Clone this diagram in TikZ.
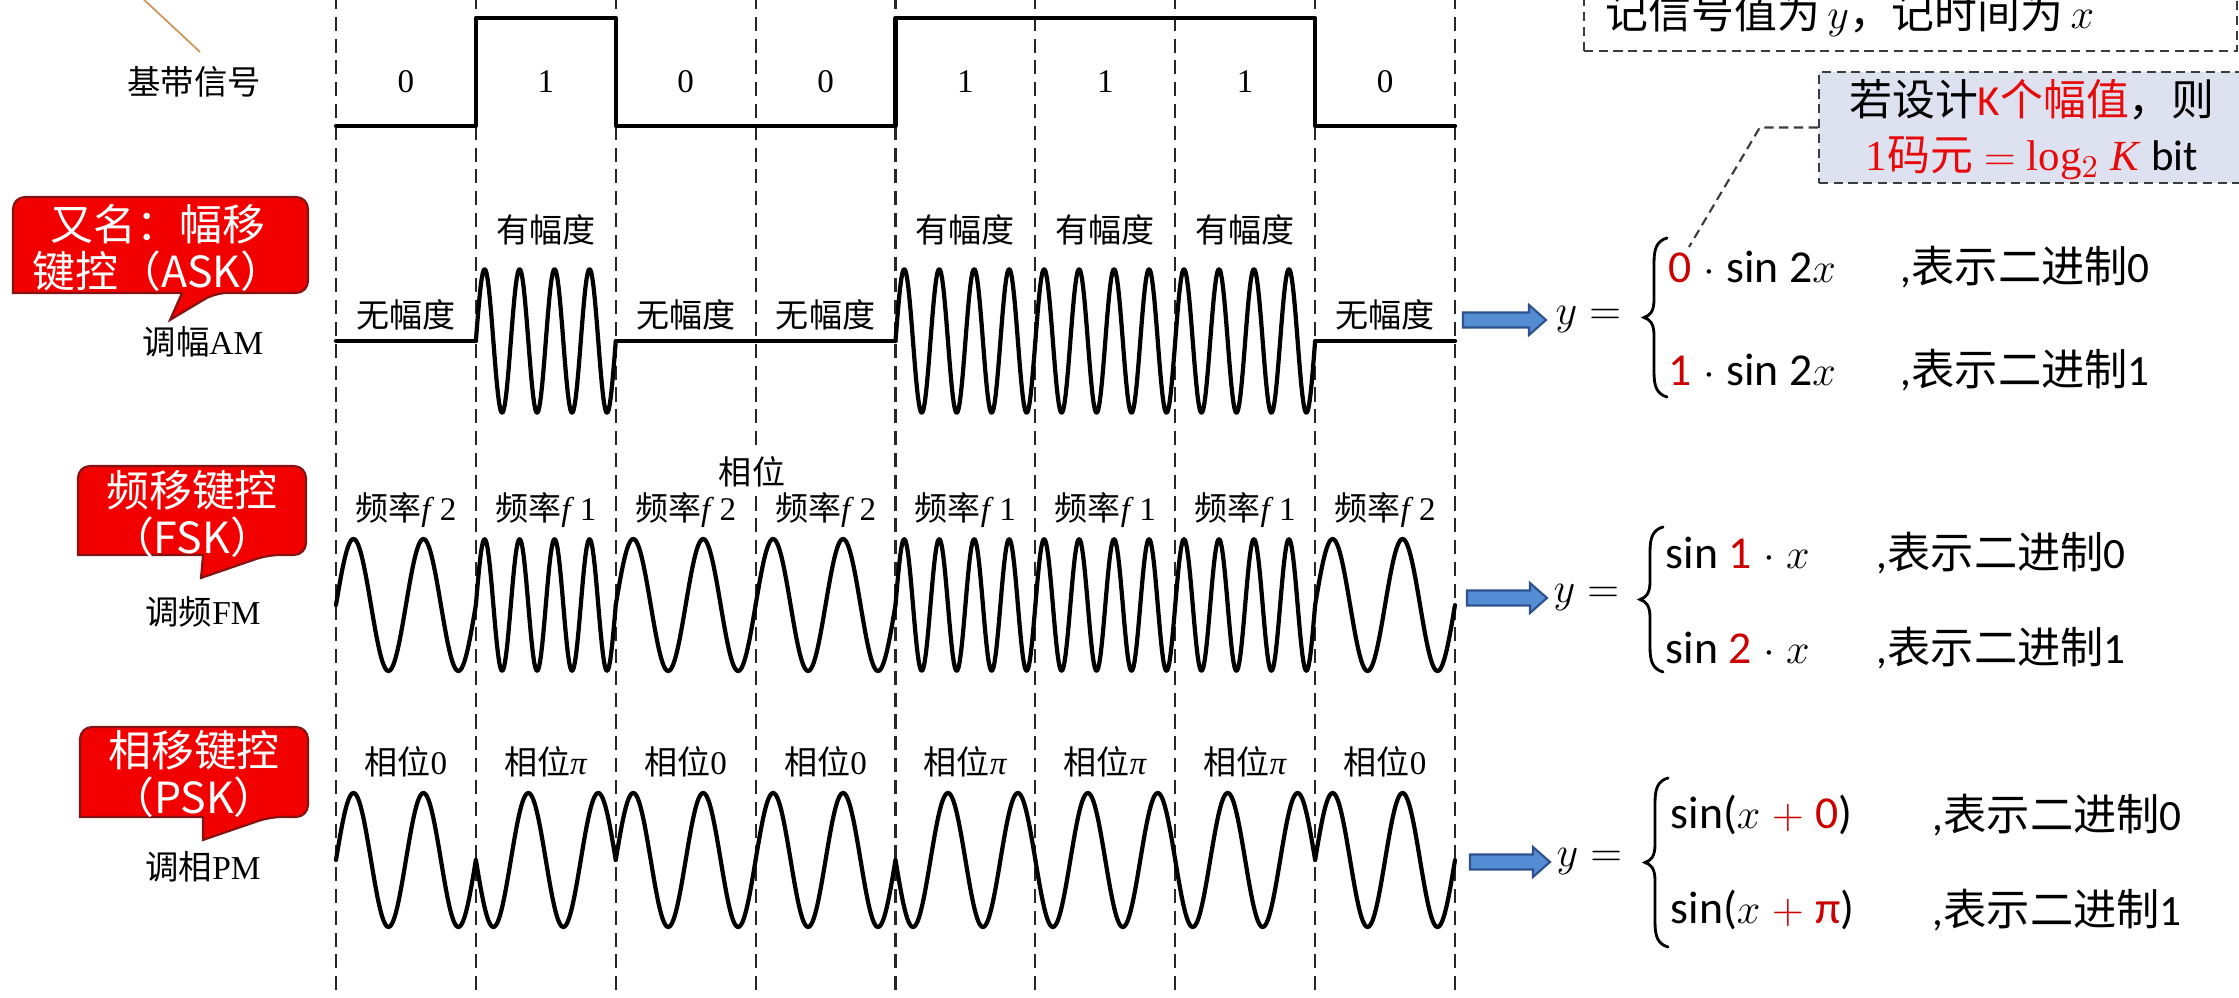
\documentclass[tikz,border=0pt]{standalone}
\usepackage{fontspec}
\setmainfont{Liberation Serif}
\setsansfont{Carlito}
\newfontfamily\zhfont{Noto Sans CJK SC}
\usetikzlibrary{calc}
\definecolor{cred}{RGB}{205,0,0}
\definecolor{kred}{RGB}{230,10,10}
\definecolor{calloutred}{RGB}{242,0,0}
\definecolor{calloutedge}{RGB}{130,20,20}
\definecolor{arrowblue}{RGB}{84,141,212}
\definecolor{arrowedge}{RGB}{47,82,143}
\definecolor{notefill}{RGB}{222,226,240}
\definecolor{notedark}{RGB}{60,60,60}
\definecolor{brownline}{RGB}{205,150,95}
\newcommand\zh[1]{{\zhfont #1}}
\newcommand\lblsize{\fontsize{9.4}{11}\selectfont}
\newcommand\eqsize{\fontsize{13}{15}\selectfont}
\newcommand\cmtsize{\fontsize{12.3}{15}\selectfont}
% callout: x1 y1 x2 y2 tailL tailR tipx tipy
\newcommand\callout[8]{%
  \draw[calloutst] (#1,{(#2+#4)/2}) [rounded corners=3.4pt] -- (#1,#2) -- (#3,#2) -- (#3,#4) -- (#6,#4) [sharp corners] -- (#7,#8) -- (#5,#4) -- (#1,#4) [rounded corners=3.4pt] -- cycle;}
% brace: xright ytop ybottom
\newcommand\cbrace[3]{%
  \pgfmathsetmacro\ym{(#2+#3)/2}%
  \draw[bracest] (#1,#2) .. controls ({#1-10},{#2+3}) and ({#1-13},{#2+10}) .. ({#1-13},{#2+25}) -- ({#1-13},{\ym-18}) .. controls ({#1-13},{\ym-6}) and ({#1-17},{\ym-2}) .. ({#1-23},\ym) .. controls ({#1-17},{\ym+2}) and ({#1-13},{\ym+6}) .. ({#1-13},{\ym+18}) -- ({#1-13},{#3-25}) .. controls ({#1-13},{#3-10}) and ({#1-10},{#3-3}) .. (#1,#3);}
% block arrow: name x1 x2 y
\newcommand\blockarrow[4]{%
  \coordinate (#1s) at (#2,#4);
  \coordinate (#1) at (#3,#4);
  \draw[arrowst] (#2,{#4-7.5}) -- ({#3-17},{#4-7.5}) -- ({#3-17},{#4-15}) -- (#1) -- ({#3-17},{#4+15}) -- ({#3-17},{#4+7.5}) -- (#2,{#4+7.5}) -- cycle;}

\begin{document}
\begin{tikzpicture}[x=0.01cm,y=-0.01cm,
  sig/.style={line width=1.2pt, line join=round, line cap=round},
  gridline/.style={line width=0.6pt, dash pattern=on 4pt off 2.2pt, black!85},
  wlabel/.style={font=\lblsize, inner sep=1pt},
  leftlbl/.style={font=\fontsize{9.5}{11}\selectfont, inner sep=1pt},
  calloutst/.style={fill=calloutred, draw=calloutedge, line width=0.6pt},
  callouttext/.style={text=white, align=center, font=\zhfont\fontsize{12.2}{13.2}\selectfont, inner sep=0},
  bracest/.style={line width=0.8pt, line cap=round},
  arrowst/.style={fill=arrowblue, draw=arrowedge, line width=0.6pt, line join=miter},
  eqn/.style={font=\eqsize, anchor=west, inner sep=0},
  cmt/.style={font=\cmtsize, anchor=west, inner sep=0},
  notedash/.style={draw=notedark, line width=0.6pt, dash pattern=on 2.6pt off 1.6pt},
  tanline/.style={draw=brownline, line width=0.5pt}
]
\useasboundingbox (0,0) rectangle (2239,998);
\clip (0,0) rectangle (2239,998);
\fill[white] (0,0) rectangle (2239,998);

% dashed bit boundaries
\foreach \i in {0,...,8}{
  \draw[gridline] ({336+139.875*\i},-5) -- ({336+139.875*\i},1005);
}

% thin brown pointer
\coordinate (bra) at (140,-4);
\coordinate (brb) at (200,52);
\draw[tanline] (bra) -- (brb);

% left labels
\node[leftlbl] (bb) at (194,82) {\zh{基带信号}};
\node[leftlbl] (am) at (203,342) {\zh{调幅}AM};
\node[leftlbl] (fm) at (203,612) {\zh{调频}FM};
\node[leftlbl] (pm) at (203,867) {\zh{调相}PM};

% callouts
\callout{13}{197}{308}{293}{182}{215}{170}{320}
\node[callouttext] (askc) at (158,248) {又名：幅移\\键控（ASK）};
\callout{78}{466}{306}{555}{203}{268}{201}{578}
\node[callouttext] (fskc) at (192,514) {频移键控\\（FSK）};
\callout{80}{727}{308}{817}{203}{270}{203}{840}
\node[callouttext] (pskc) at (194,774) {相移键控\\（PSK）};

% baseband signal
\draw[sig] (336,126) -- (475.875,126) -- (475.875,18) -- (615.75,18) -- (615.75,126) -- (895.5,126) -- (895.5,18) -- (1315.125,18) -- (1315.125,126) -- (1455,126);

% modulated waveforms and labels
\foreach \bv [count=\i from 0] in {0,1,0,0,1,1,1,0}{
  \pgfmathsetmacro\xa{336+139.875*\i}
  \pgfmathsetmacro\xc{\xa+69.9375}
  \node[wlabel] (bit\i) at (\xc,82) {\bv};
  % ASK
  \draw[sig] plot[domain=0:1,samples=121] ({\xa+139.875*\x},{341-72*\bv*sin(1440*\x)});
  \ifnum\bv=1
    \node[wlabel] (askl\i) at (\xc,230) {\zh{有幅度}};
    \node[wlabel] (fskl\i) at (\xc,510) {\zh{频率}\textit{f}\,1};
    \node[wlabel] (pskl\i) at (\xc,762) {\zh{相位}\textit{π}};
  \else
    \node[wlabel] (askl\i) at (\xc,315) {\zh{无幅度}};
    \node[wlabel] (fskl\i) at (\xc,510) {\zh{频率}\textit{f}\,2};
    \node[wlabel] (pskl\i) at (\xc,762) {\zh{相位}0};
  \fi
  % FSK
  \draw[sig] plot[domain=0:1,samples=121] ({\xa+139.875*\x},{605-66*sin(720*(1+\bv)*\x)});
  % PSK
  \draw[sig] plot[domain=0:1,samples=121] ({\xa+139.875*\x},{860-67*(1-2*\bv)*sin(720*\x)});
}
\node[wlabel, fill=white] (xw) at (752,472) {\zh{相位}};

% ===== right side =====
% top note box
\node[draw=notedark, line width=0.6pt, dash pattern=on 2.6pt off 1.6pt, minimum width=6.53cm, minimum height=0.75cm, inner sep=0] (tbox) at (1910.5,13.5) {};
\node[anchor=base west, inner sep=0, font=\fontsize{12.2}{14}\selectfont] (ttext) at (1605,29) {\zh{记信号值为}\,$y$\zh{，记时间为}\,$x$};

% K note box
\node[fill=notefill, draw=notedark, line width=0.6pt, dash pattern=on 2.6pt off 1.6pt, minimum width=4.45cm, minimum height=1.11cm, inner sep=0] (kbox) at (2041.5,127.5) {};
\node[align=center, inner sep=0, font=\fontsize{12.2}{15.6}\selectfont] (ktext) at (2032,130) {\zh{若设计}\textcolor{kred}{{\sffamily K}\zh{个幅值}}\zh{，则}\\\textcolor{kred}{1\zh{码元} $=$ log$_2$ \textit{K}} {\sffamily bit}};
\coordinate (cn) at (1689,247);
\draw[notedash] (kbox.west) -- ++(-58,0) -- (cn);

% ASK equation
\blockarrow{askarr}{1463}{1546}{320}
\node[eqn] (yask) at (1555,320) {$y=$};
\cbrace{1667}{238}{397}
\node[eqn] (a0) at (1668,267) {\textcolor{cred}{\sffamily 0} $\cdot$ {\sffamily sin 2}$x$};
\node[cmt] (a0c) at (1900,267) {{\sffamily ,}\zh{表示二进制}{\sffamily 0}};
\node[eqn] (a1) at (1668,370) {\textcolor{cred}{\sffamily 1} $\cdot$ {\sffamily sin 2}$x$};
\node[cmt] (a1c) at (1900,370) {{\sffamily ,}\zh{表示二进制}{\sffamily 1}};

% FSK equation
\blockarrow{fskarr}{1467}{1547}{598}
\node[eqn] (yfsk) at (1553,598) {$y=$};
\cbrace{1663}{527}{672}
\node[eqn] (f0) at (1665,553) {{\sffamily sin }\textcolor{cred}{\sffamily 1} $\cdot$ $x$};
\node[cmt] (f0c) at (1876,553) {{\sffamily ,}\zh{表示二进制}{\sffamily 0}};
\node[eqn] (f1) at (1665,648) {{\sffamily sin }\textcolor{cred}{\sffamily 2} $\cdot$ $x$};
\node[cmt] (f1c) at (1876,648) {{\sffamily ,}\zh{表示二进制}{\sffamily 1}};

% PSK equation
\blockarrow{pskarr}{1470}{1550}{862}
\node[eqn] (ypsk) at (1556,862) {$y=$};
\cbrace{1668}{778}{947}
\node[eqn] (p0) at (1670,815) {{\sffamily sin(}$x$ \textcolor{cred}{$+$ {\sffamily 0}}{\sffamily )}};
\node[cmt] (p0c) at (1932,815) {{\sffamily ,}\zh{表示二进制}{\sffamily 0}};
\node[eqn] (p1) at (1670,910) {{\sffamily sin(}$x$ \textcolor{cred}{$+$ {\sffamily π}}{\sffamily )}};
\node[cmt] (p1c) at (1932,910) {{\sffamily ,}\zh{表示二进制}{\sffamily 1}};
\end{tikzpicture}
\end{document}
